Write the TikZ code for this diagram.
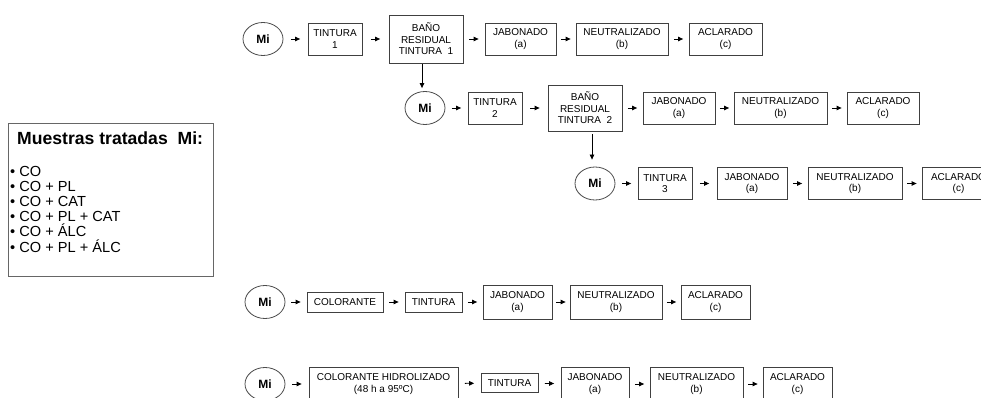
\documentclass[tikz,border=0pt]{standalone}
\usepackage{fontspec}
\setmainfont{Liberation Sans}
\usetikzlibrary{arrows.meta,shapes.geometric}
\tikzset{
  bx/.style={draw=black!75, line width=0.8pt, align=center, inner sep=0pt,
    font=\fontsize{10}{11.5}\selectfont, minimum height=32pt},
  mi/.style={ellipse, draw=black!70, line width=0.8pt, minimum width=40pt,
    minimum height=33pt, inner sep=0pt, font=\bfseries\fontsize{12}{14}\selectfont},
  arw/.style={-{Triangle[length=5pt,width=4.5pt]}, line width=0.8pt, black},
}
\newcommand\fl[3]{\draw[arw, shorten <=#3pt, shorten >=#3pt] (#1) -- (#2);}
\begin{document}
\begin{tikzpicture}[x=1pt,y=-1pt]
\useasboundingbox (0,0) rectangle (981,398);
\clip (0,0) rectangle (981,398);
% legend
\node[draw=black!60, line width=1pt, minimum width=205pt, minimum height=153pt,
  anchor=north west, inner sep=0pt] (leg) at (8,123) {};
\node[anchor=base west, inner sep=0pt, font=\bfseries\fontsize{17.6}{20}\selectfont]
  (title) at (17,145) {Muestras tratadas\ \ Mi:};
\node[anchor=base west, inner sep=0pt, align=left,
  font=\fontsize{14.6}{15.2}\selectfont] (list) at (10,252)
  {• CO\\• CO + PL\\• CO + CAT\\• CO + PL + CAT\\• CO + ÁLC\\• CO + PL + ÁLC};
% row 1
\node[mi] (mi1) at (263,39) {Mi};
\node[bx, minimum width=54pt] (t1) at (335,39) {TINTURA\\1};
\node[bx, minimum width=74pt, minimum height=48pt] (b1) at (426,39) {BAÑO\\RESIDUAL\\TINTURA\ \ 1};
\node[bx, minimum width=71pt] (j1) at (520.5,39) {JABONADO\\(a)};
\node[bx, minimum width=92pt] (n1) at (622,39) {NEUTRALIZADO\\(b)};
\node[bx, minimum width=73pt] (a1) at (725.5,39) {ACLARADO\\(c)};
\fl{mi1}{t1}{7.5}\fl{t1}{b1}{8.5}\fl{b1}{j1}{6}\fl{j1}{n1}{5}\fl{n1}{a1}{5.5}
% row 2
\node[mi] (mi2) at (425,108) {Mi};
\node[bx, minimum width=54pt] (t2) at (495,108) {TINTURA\\2};
\node[bx, minimum width=74pt, minimum height=46pt] (b2) at (585,108) {BAÑO\\RESIDUAL\\TINTURA\ \ 2};
\node[bx, minimum width=72pt] (j2) at (679,108) {JABONADO\\(a)};
\node[bx, minimum width=93pt] (n2) at (780.5,108) {NEUTRALIZADO\\(b)};
\node[bx, minimum width=72pt] (a2) at (883,108) {ACLARADO\\(c)};
\fl{mi2}{t2}{6.5}\fl{t2}{b2}{8}\fl{b2}{j2}{5.5}\fl{j2}{n2}{4.5}\fl{n2}{a2}{5}
\draw[arw, shorten <=1pt, shorten >=3pt] ([xshift=-4pt]b1.south) -- ([xshift=-4pt]b1.south |- mi2.north);
% row 3
\node[mi] (mi3) at (595,183.5) {Mi};
\node[bx, minimum width=54pt] (t3) at (665,183.5) {TINTURA\\3};
\node[bx, minimum width=70pt] (j3) at (752,183.5) {JABONADO\\(a)};
\node[bx, minimum width=94pt] (n3) at (855,183.5) {NEUTRALIZADO\\(b)};
\node[bx, minimum width=73pt] (a3) at (958.5,183.5) {ACLARADO\\(c)};
\fl{mi3}{t3}{6.5}\fl{t3}{j3}{7.5}\fl{j3}{n3}{5.5}\fl{n3}{a3}{5}
\draw[arw, shorten <=3pt, shorten >=7pt] ([xshift=-3pt]mi3.north |- b2.south) -- ([xshift=-3pt]mi3.north);
% row 4
\node[mi] (mi4) at (265,302) {Mi};
\node[bx, minimum width=76pt, minimum height=20pt] (col) at (345,302) {COLORANTE};
\node[bx, minimum width=57pt, minimum height=20pt] (t4) at (433.5,302) {TINTURA};
\node[bx, minimum width=69pt, minimum height=34pt] (j4) at (517.5,302) {JABONADO\\(a)};
\node[bx, minimum width=92pt, minimum height=34pt] (n4) at (616,302) {NEUTRALIZADO\\(b)};
\node[bx, minimum width=69pt, minimum height=34pt] (a4) at (715.5,302) {ACLARADO\\(c)};
\fl{mi4}{col}{6}\fl{col}{t4}{6}\fl{t4}{j4}{5.5}\fl{j4}{n4}{4}\fl{n4}{a4}{4.5}
% row 5
\node[mi] (mi5) at (265,384) {Mi};
\node[bx, minimum width=149pt, minimum height=33pt] (ch) at (383.5,384) {COLORANTE HIDROLIZADO\\(48 h a 95ºC)};
\node[bx, minimum width=57pt, minimum height=19pt] (t5) at (509.5,383) {TINTURA};
\node[bx, minimum width=68pt, minimum height=34pt] (j5) at (595,384) {JABONADO\\(a)};
\node[bx, minimum width=93pt, minimum height=34pt] (n5) at (696.5,384) {NEUTRALIZADO\\(b)};
\node[bx, minimum width=69pt, minimum height=34pt] (a5) at (797.5,384) {ACLARADO\\(c)};
\fl{mi5}{ch}{7}\fl{ch}{t5}{6.5}\fl{t5}{j5}{6.5}\fl{j5}{n5}{5.5}\fl{n5}{a5}{5}
\end{tikzpicture}
\end{document}
